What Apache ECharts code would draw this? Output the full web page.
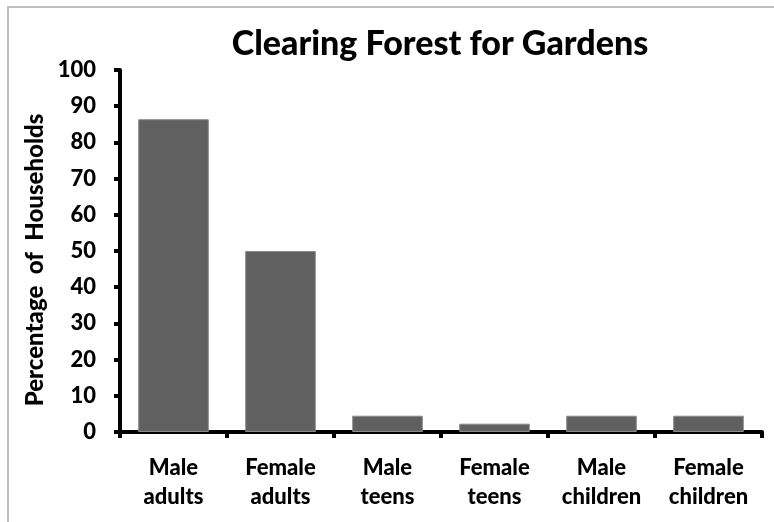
<!DOCTYPE html>
<html>
<head>
<meta charset="utf-8">
<script src="https://cdn.jsdelivr.net/npm/echarts@6/dist/echarts.min.js"></script>
<style>
  html, body { margin: 0; padding: 0; background: #ffffff; }
  #chart { width: 774px; height: 522px; }
</style>
</head>
<body>
<div id="chart"></div>
<script>
// Household groups and the share of households where each group clears forest
const categories = ['Male\nadults', 'Female\nadults', 'Male\nteens', 'Female\nteens', 'Male\nchildren', 'Female\nchildren'];
const percentages = [86.4, 50, 4.5, 2.3, 4.5, 4.5];
const yTicks = { min: 0, max: 100, interval: 10 };

const FONT = 'Lato';
const WEIGHT = 900;
const chart = echarts.init(document.getElementById('chart'), null, { renderer: 'canvas' });

chart.setOption({
  backgroundColor: '#ffffff',
  animation: false,
  title: {
    text: 'Clearing Forest for Gardens',
    left: 435,
    textAlign: 'center',
    top: 22,
    textStyle: { fontFamily: FONT, fontWeight: WEIGHT, fontSize: 34, color: '#000000' }
  },
  graphic: [{
    type: 'rect',
    shape: { x: 8, y: 7, width: 800, height: 600 },
    style: { fill: 'none', stroke: '#bfbfbf', lineWidth: 2 },
    silent: true
  }],
  grid: { left: 120, right: 12, top: 70, bottom: 90, containLabel: false },
  xAxis: {
    type: 'category',
    data: categories,
    axisLine: { show: true, lineStyle: { color: '#000000', width: 4 } },
    axisTick: { show: true, alignWithLabel: false, length: 6, lineStyle: { color: '#000000', width: 4 } },
    axisLabel: {
      interval: 0,
      margin: 21,
      fontFamily: FONT, fontWeight: WEIGHT, fontSize: 22, color: '#000000', lineHeight: 29
    },
    splitLine: { show: false }
  },
  yAxis: {
    type: 'value',
    min: yTicks.min,
    max: yTicks.max,
    interval: yTicks.interval,
    name: 'Percentage  of  Households',
    nameLocation: 'middle',
    nameGap: 73,
    nameRotate: 90,
    nameTextStyle: { fontFamily: FONT, fontWeight: WEIGHT, fontSize: 24, color: '#000000', padding: [0, 18, 0, 0] },
    axisLine: { show: true, lineStyle: { color: '#000000', width: 4 } },
    axisTick: { show: true, length: 6, lineStyle: { color: '#000000', width: 4 } },
    axisLabel: { margin: 24, fontFamily: FONT, fontWeight: WEIGHT, fontSize: 22, color: '#000000' },
    splitLine: { show: false }
  },
  series: [{
    type: 'bar',
    data: percentages,
    barWidth: '66%',
    itemStyle: { color: '#606060', borderColor: '#8a8a8a', borderWidth: 1 }
  }]
});
</script>
</body>
</html>
